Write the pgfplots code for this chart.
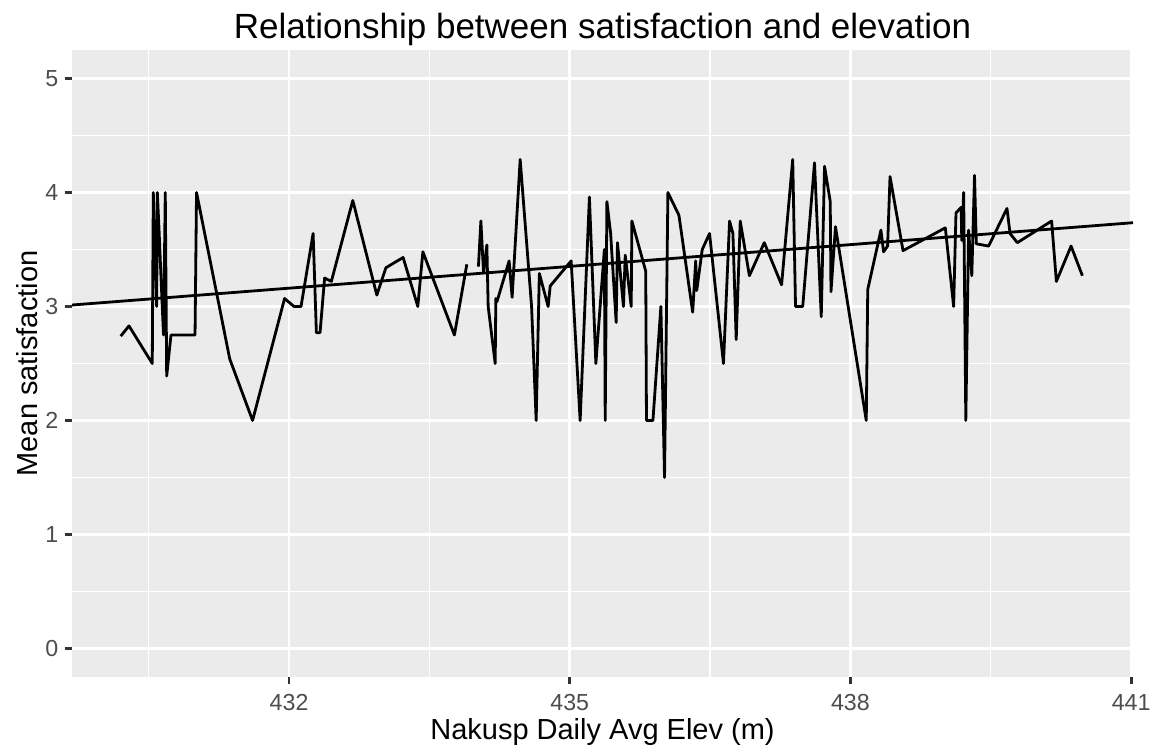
\documentclass[border=0pt]{standalone}
\usepackage{fontspec}
\setmainfont{Liberation Sans}
\usepackage{pgfplots}
\pgfplotsset{compat=1.18}
\definecolor{panelbg}{HTML}{EBEBEB}
\definecolor{ticklab}{HTML}{4D4D4D}
\definecolor{tickcol}{HTML}{333333}
\begin{document}
\begin{tikzpicture}
\begin{axis}[
  scale only axis, width=530.5pt, height=313.5pt,
  xmin=429.68, xmax=441.02, ymin=-0.25, ymax=5.25,
  axis background/.style={fill=panelbg},
  axis line style={draw=none},
  xtick={432,435,438,441}, ytick={0,1,2,3,4,5},
  minor xtick={430.5,433.5,436.5,439.5}, minor ytick={0.5,1.5,2.5,3.5,4.5},
  grid=both,
  major grid style={white, line width=1.4pt},
  minor grid style={white, line width=0.7pt},
  tick align=outside, tick pos=left,
  major tick length=3.7pt, minor tick length=0pt,
  tick style={color=tickcol, line width=1.4pt},
  /pgf/number format/assume math mode=true,
  tick label style={font=\fontsize{11.6}{13}\selectfont, color=ticklab, inner sep=0pt},
  xticklabel style={anchor=base, yshift=-13pt},
  yticklabel style={anchor=east, xshift=-2.9pt},
  title={Relationship between satisfaction and elevation},
  title style={font=\fontsize{17.5}{20}\selectfont, at={(0.5,1)}, anchor=base, yshift=-0.5pt},
  xlabel={Nakusp Daily Avg Elev (m)},
  ylabel={Mean satisfaction},
  every axis x label/.style={at={(axis description cs:0.5,0)}, anchor=base, yshift=-31.5pt, font=\fontsize{14.5}{17}\selectfont},
  every axis y label/.style={at={(axis description cs:0,0.5)}, xshift=-17.5pt, rotate=90, anchor=base, font=\fontsize{14.5}{17}\selectfont},
  unbounded coords=jump,
]
\addplot[black, line width=1.4pt, line join=round] coordinates {
(430.201,2.74) (430.289,2.83) (430.538,2.50) (430.549,4.00) (430.585,3.00)
(430.592,4.00) (430.610,3.68) (430.628,3.32) (430.658,2.75) (430.677,4.00)
(430.692,2.39) (430.738,2.75) (430.995,2.75) (431.011,4.00) (431.366,2.54)
(431.610,2.00) (431.952,3.07) (432.053,3.00) (432.128,3.00) (432.257,3.64)
(432.292,2.77) (432.331,2.77) (432.380,3.25) (432.452,3.22) (432.681,3.93)
(432.938,3.10) (433.035,3.34) (433.219,3.43) (433.376,3.00) (433.430,3.48)
(433.767,2.75) (433.900,3.37) (433.960,nan)
(434.024,3.35) (434.050,3.75) (434.078,3.30) (434.114,3.54) (434.128,3.00)
(434.203,2.50) (434.210,3.07) (434.221,3.04) (434.352,3.40) (434.384,3.08)
(434.470,4.29) (434.592,3.00) (434.641,2.00) (434.675,3.29) (434.769,3.00)
(434.791,3.18) (435.015,3.40) (435.111,2.00) (435.210,3.96) (435.279,2.50)
(435.370,3.50) (435.379,2.00) (435.397,3.92) (435.437,3.64) (435.496,2.86)
(435.510,3.56) (435.574,3.00) (435.593,3.45) (435.657,3.00) (435.664,3.75)
(435.812,3.31) (435.820,2.00) (435.889,2.00) (435.974,3.00) (436.013,1.50)
(436.049,4.00) (436.167,3.80) (436.314,2.95) (436.346,3.40) (436.357,3.14)
(436.416,3.50) (436.494,3.64) (436.643,2.50) (436.708,3.75) (436.744,3.64)
(436.779,2.71) (436.822,3.75) (436.920,3.27) (437.079,3.56) (437.264,3.19)
(437.383,4.29) (437.413,3.00) (437.490,3.00) (437.616,4.26) (437.688,2.91)
(437.723,4.23) (437.784,3.92) (437.792,3.13) (437.840,3.70) (438.169,2.00)
(438.185,3.15) (438.326,3.67) (438.354,3.48) (438.397,3.53) (438.423,4.14)
(438.562,3.49) (439.014,3.69) (439.103,3.00) (439.128,3.82) (439.183,3.87)
(439.190,3.58) (439.210,4.00) (439.233,2.00) (439.263,3.67) (439.297,3.27)
(439.326,4.15) (439.345,3.55) (439.477,3.53) (439.673,3.86) (439.706,3.64)
(439.784,3.56) (440.150,3.75) (440.201,3.22) (440.358,3.53) (440.479,3.27)
};
\addplot[black, line width=1.4pt] coordinates {(429.68,3.013) (441.02,3.735)};
\end{axis}
\pgfresetboundingbox
\useasboundingbox (-36pt,-35.5pt) rectangle (539.5pt,338.5pt);
\end{tikzpicture}
\end{document}
